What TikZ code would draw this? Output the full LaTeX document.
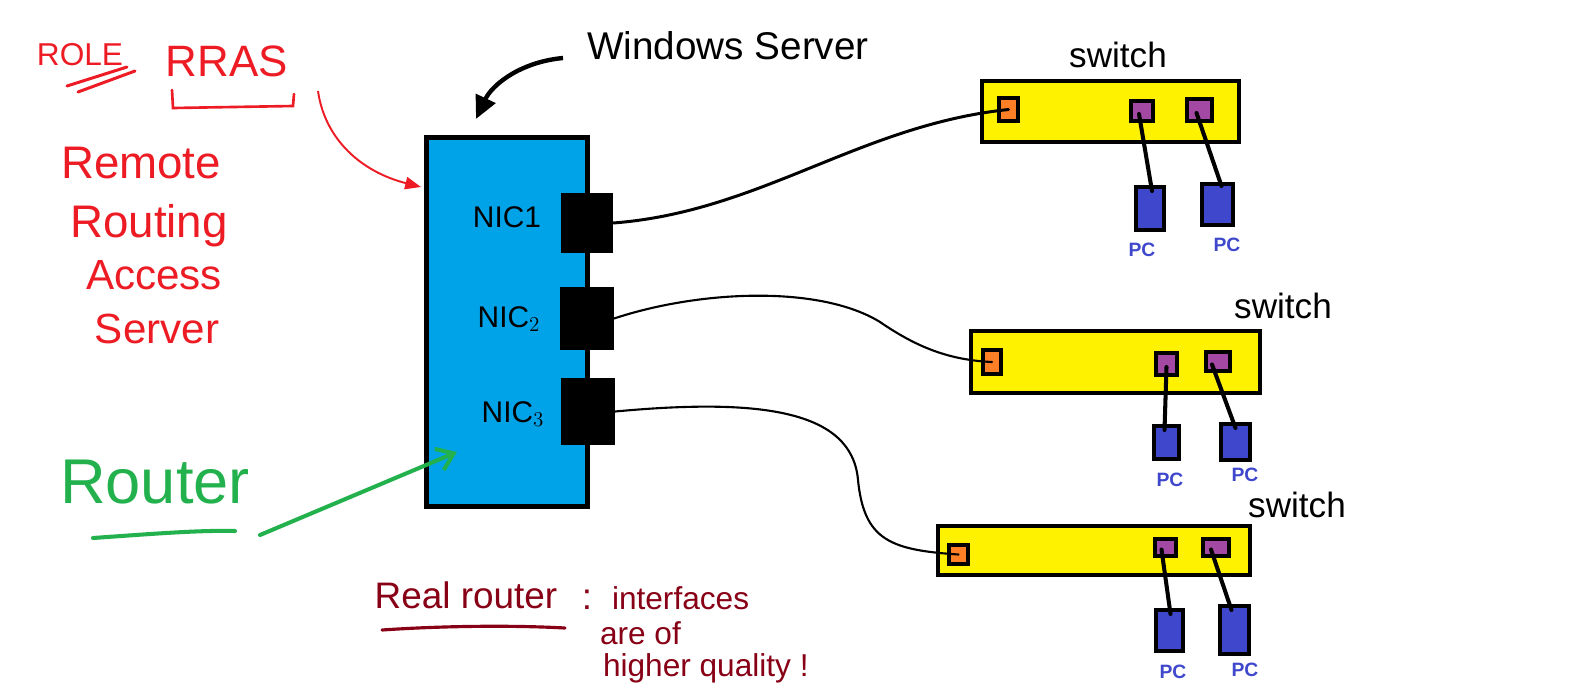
\documentclass[tikz,border=0pt]{standalone}
\usepackage{fontspec}
\setmainfont{Liberation Sans}
\usetikzlibrary{arrows.meta,calc}
\definecolor{srvblue}{RGB}{0,162,232}
\definecolor{swyellow}{RGB}{255,242,0}
\definecolor{portorange}{RGB}{255,127,39}
\definecolor{portpurple}{RGB}{163,73,164}
\definecolor{pcblue}{RGB}{63,72,204}
\definecolor{inkred}{RGB}{237,28,36}
\definecolor{inkgreen}{RGB}{34,177,76}
\definecolor{inkwine}{RGB}{136,0,21}
\newcommand\myfs[1]{\fontsize{#1}{#1}\selectfont}
\begin{document}
\begin{tikzpicture}[x=0.02cm,y=-0.02cm,
  sz/.style 2 args={minimum width=#1*0.02cm, minimum height=#2*0.02cm, inner sep=0pt, outer sep=0pt},
  server/.style={draw, fill=srvblue, line width=2.8pt},
  nic/.style={fill=black, draw=none},
  switchbox/.style={draw, fill=swyellow, line width=2.3pt},
  uplink/.style={draw, fill=portorange, line width=2.3pt},
  port/.style={draw, fill=portpurple, line width=2.3pt},
  pc/.style={draw, fill=pcblue, line width=2.5pt},
  cable/.style={line width=2.3pt, line cap=round},
  link/.style={line width=1.2pt, line cap=round},
  txt/.style={inner sep=0pt, outer sep=0pt},
  pclabel/.style={txt, text=pcblue, font=\myfs{11}\bfseries},
  swlabel/.style={txt, font=\myfs{20}},
  niclabel/.style={txt, font=\myfs{17}},
  redtxt/.style={txt, text=inkred, font=\myfs{25}},
  winetxt/.style={txt, text=inkwine, font=\myfs{21}},
]
\useasboundingbox (0,0) rectangle (1585,694);

% server
\node[server, sz={161}{369}] (server) at (507,322) {};
\node[nic, sz={52}{60}] (nic1) at (587,223) {};
\node[nic, sz={54}{63}] (nic2) at (587,318.5) {};
\node[nic, sz={54}{67}] (nic3) at (588,411.5) {};
\node[niclabel] (nic1l) at (507,217) {NIC1};
\node[niclabel] (nic2l) at (509,319) {NIC$_2$};
\node[niclabel] (nic3l) at (513,414) {NIC$_3$};

% switch 1
\node[switchbox, sz={257}{61}] (sw1) at (1110.5,111.5) {};
\node[uplink, sz={19}{23}] (up1) at (1008.5,109.5) {};
\node[port, sz={22}{20}] (p1a) at (1142,111) {};
\node[port, sz={25}{22}] (p1b) at (1199.5,110) {};
\node[pc, sz={28}{43}] (pc1a) at (1150,208.5) {};
\node[pc, sz={31}{41}] (pc1b) at (1217.5,204.5) {};
\node[swlabel] (sw1l) at (1118,55) {switch};
\node[pclabel] (pc1al) at (1142,250) {PC};
\node[pclabel] (pc1bl) at (1227,245) {PC};

% switch 2
\node[switchbox, sz={289}{62}] (sw2) at (1115.5,362) {};
\node[uplink, sz={18}{24}] (up2) at (992,362) {};
\node[port, sz={21}{22}] (p2a) at (1166.5,364) {};
\node[port, sz={24}{19}] (p2b) at (1218,361.5) {};
\node[pc, sz={25}{33}] (pc2a) at (1166.5,442.5) {};
\node[pc, sz={29}{36}] (pc2b) at (1235.5,442) {};
\node[swlabel] (sw2l) at (1283,306) {switch};
\node[pclabel] (pc2al) at (1170,480) {PC};
\node[pclabel] (pc2bl) at (1245,475) {PC};

% switch 3
\node[switchbox, sz={312}{49}] (sw3) at (1094,550.5) {};
\node[uplink, sz={19}{19}] (up3) at (958.5,554.5) {};
\node[port, sz={21}{17}] (p3a) at (1165.5,547.5) {};
\node[port, sz={26}{17}] (p3b) at (1216,547.5) {};
\node[pc, sz={27}{41}] (pc3a) at (1169.5,630.5) {};
\node[pc, sz={29}{48}] (pc3b) at (1234.5,630) {};
\node[swlabel] (sw3l) at (1297,505) {switch};
\node[pclabel] (pc3al) at (1173,672) {PC};
\node[pclabel] (pc3bl) at (1245,670) {PC};

% port to PC cables
\draw[cable] ($(p1a.center)+(-3,3)$) -- ($(pc1a.north)+(2,4)$);
\draw[cable] ($(p1b.center)+(-3,3)$) -- ($(pc1b.north)+(4,2)$);
\draw[cable] ($(p2a.center)+(0,3)$) -- ($(pc2a.north)+(-2,4)$);
\draw[cable] ($(p2b.center)+(-6,3)$) -- ($(pc2b.north)+(0,4)$);
\draw[cable] ($(p3a.center)+(-4,2)$) -- ($(pc3a.north)+(1,4)$);
\draw[cable] ($(p3b.center)+(-5,2)$) -- ($(pc3b.north)+(-3,4)$);

% uplinks
\draw[link, line width=1.7pt] (nic1.east) .. controls (760,212) and (860,125) .. (up1.center);
\draw[link] (nic2.east) .. controls (700,290) and (820,285) .. (880,322)
  .. controls (918,348) and (950,360) .. (up2.center);
\draw[link] (nic3.east) .. controls (760,398) and (852,410) .. (858,480)
  .. controls (864,540) and (890,550) .. (up3.center);

% Windows Server annotation
\node[txt, font=\myfs{22}] (ws) at (728,46) {Windows Server};
\coordinate (wsstart) at (563,58);
\coordinate (wstip) at (476,119);
\draw[line width=2.5pt, -{Triangle[length=13pt,width=12pt]}] (wsstart) .. controls (520,62) and (492,85) .. (wstip);

% red annotation
\node[txt, text=inkred, font=\myfs{18}] (role) at (80,55) {ROLE};
\draw[inkred, line width=1.7pt, line cap=round] (67,86) -- (127,67);
\draw[inkred, line width=1.7pt, line cap=round] (78,92) -- (135,71);
\node[redtxt] (rras) at (227,61) {RRAS};
\draw[inkred, line width=1.5pt, line cap=round] (172,90) -- (173,108) -- (293,106) -- (294,94);
\node[redtxt, font=\myfs{26}] (remote) at (141,163) {Remote};
\node[redtxt, font=\myfs{26}] (routing) at (149,226) {Routing};
\node[redtxt, font=\myfs{24}] (access) at (154,275) {Access};
\node[redtxt, font=\myfs{24}] (serverl) at (157,329) {Server};
\coordinate (redstart) at (318,91);
\coordinate (redtip) at (421,187);
\draw[inkred, line width=1.1pt, -{Triangle[length=9pt,width=7pt]}] (redstart) .. controls (325,140) and (362,172) .. (redtip);

% green annotation
\node[txt, text=inkgreen, font=\myfs{36}] (router) at (155,482) {Router};
\draw[inkgreen, line width=2.3pt, line cap=round] (93,538) .. controls (150,534) and (200,530) .. (235,531);
\coordinate (greenstart) at (260,535);
\coordinate (greentip) at (457,452);
\draw[inkgreen, line width=2.3pt, line cap=round, -{Straight Barb[length=9pt,width=13pt]}] (greenstart) -- (greentip);

% wine annotation
\node[winetxt] (real) at (466,595) {Real router};
\draw[inkwine, line width=1.8pt, line cap=round] (382,630) .. controls (440,626) and (510,625) .. (565,628);
\node[winetxt] (colon) at (587,600) {:};
\node[winetxt, font=\myfs{18}, anchor=west] (intf) at (612,598) {interfaces};
\node[winetxt, font=\myfs{18}, anchor=west] (areof) at (600,633) {are of};
\node[winetxt, font=\myfs{18}, anchor=west] (hq) at (603,668) {higher quality !};
\end{tikzpicture}
\end{document}
